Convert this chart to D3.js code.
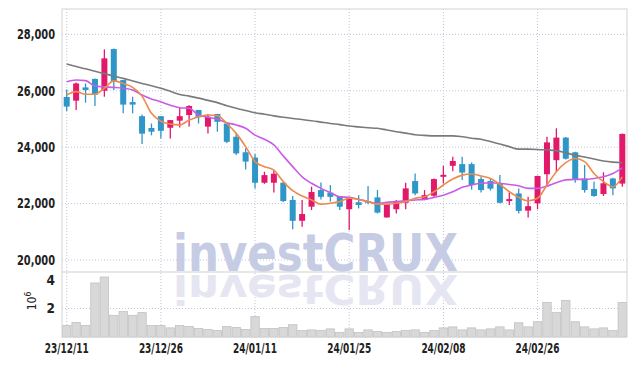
<!DOCTYPE html>
<html><head><meta charset="utf-8">
<script src="https://cdn.jsdelivr.net/npm/d3@7"></script>
<style>html,body{margin:0;padding:0;background:#fff;}svg{display:block;}</style>
</head><body>
<svg id="c" width="635" height="366"></svg>
<script>
const dates = ["23/12/11","23/12/12","23/12/13","23/12/14","23/12/15","23/12/18","23/12/19","23/12/20","23/12/21","23/12/22",
"23/12/26","23/12/27","23/12/28","24/01/02","24/01/03","24/01/04","24/01/05","24/01/08","24/01/09","24/01/10",
"24/01/11","24/01/12","24/01/15","24/01/16","24/01/17","24/01/18","24/01/19","24/01/22","24/01/23","24/01/24",
"24/01/25","24/01/26","24/01/29","24/01/30","24/01/31","24/02/01","24/02/02","24/02/05","24/02/06","24/02/07",
"24/02/08","24/02/13","24/02/14","24/02/15","24/02/16","24/02/19","24/02/20","24/02/21","24/02/22","24/02/23",
"24/02/26","24/02/27","24/02/28","24/02/29","24/03/04","24/03/05","24/03/06","24/03/07","24/03/08","24/03/11"];
const openP = [25780,25650,26120,26420,26000,27480,26380,25600,25100,24680,25100,24690,24940,25140,25320,24730,25180,24840,24370,23820,
23630,22740,22740,22740,22130,21390,21890,22480,22390,22270,21800,22050,22090,22220,21510,21800,22030,22800,22130,22280,
22950,23340,23400,23400,22870,22800,22720,22090,22360,21750,22010,23040,23540,24340,23820,22890,22520,22340,22890,22710];
const highP = [26050,26290,26260,26440,27470,27500,26380,25790,25160,24840,25100,24960,25410,25490,25320,25180,25180,24860,24490,23960,
23760,23130,23190,22760,22270,22130,22600,22750,22660,22270,22240,22300,22620,22480,22000,22130,22740,23070,22480,22890,
23340,23660,23660,23460,22950,22890,23010,22390,22540,22240,22990,24370,24670,24360,23840,23370,22780,23110,22920,24490];
const lowP = [25280,25320,25580,25460,25790,26030,25200,25200,24110,24420,24310,24310,24700,24730,24840,24490,24550,24150,23720,23210,
22540,22700,22390,22060,21090,21180,21770,22150,22070,21770,21060,21830,21980,21650,21500,21650,21800,22300,22120,22240,
22720,23150,22840,22500,22390,22460,22010,21950,21650,21510,21800,22600,23130,23560,22740,22390,22240,22270,22300,22600];
const closeP = [25440,26260,26030,25860,27150,26320,25510,25510,24480,24550,24580,24960,25100,25460,25060,25080,24900,24190,23780,23490,
22740,23010,23060,22090,21390,21630,22410,22240,22240,21890,22220,21950,22030,21680,21990,22090,22540,22360,22300,22870,
23020,23510,23100,22660,22480,22530,22030,22160,21740,21910,22980,24170,24340,23590,22870,22480,22270,22720,22540,24470];
const volumeM = [0.81,1.02,0.81,3.79,4.21,1.52,1.79,1.52,1.71,0.81,0.81,0.64,0.81,0.74,0.60,0.52,0.45,0.74,0.67,0.52,
1.43,0.60,0.60,0.67,0.86,0.45,0.50,0.45,0.57,0.31,0.57,0.31,0.50,0.38,0.31,0.38,0.45,0.50,0.31,0.45,
0.64,0.71,0.50,0.64,0.50,0.57,0.71,0.50,1.00,0.71,1.07,2.43,1.71,2.57,1.07,0.71,0.57,0.64,0.45,2.43];
const ma5 = [25850,25970,25880,25880,26090,26350,26260,26120,25810,25200,24920,24820,24790,24960,25080,25140,25120,24840,24490,24020,
23490,23310,23190,22780,22460,22270,22130,21980,22010,22070,22190,22150,22070,21980,21980,22010,22070,22190,22240,22420,
22660,22870,23010,23050,22980,22890,22680,22420,22220,22100,22190,22660,23130,23450,23600,23490,23070,22780,22600,22950];
const ma20 = [26320,26380,26360,26170,26140,26120,26090,26030,25850,25710,25610,25490,25400,25380,25140,25060,25000,24870,24790,24670,
24430,24280,24080,23690,23310,22950,22720,22540,22390,22240,22220,22150,22070,22010,22050,22070,22100,22130,22150,22220,
22300,22420,22580,22660,22720,22740,22720,22680,22630,22540,22540,22620,22740,22840,22860,22860,22890,22950,23070,23270];
const ma60 = [26950,26860,26780,26690,26610,26520,26440,26350,26260,26180,26090,25980,25870,25810,25740,25660,25580,25470,25380,25300,
25220,25170,25110,25060,25020,24980,24940,24890,24840,24800,24750,24720,24690,24670,24610,24550,24500,24440,24420,24400,
24400,24400,24370,24320,24280,24200,24110,24020,23930,23930,23920,23900,23880,23800,23720,23650,23580,23510,23470,23450];
const priceTicks = [20000,22000,24000,26000,28000];
const volTicks = [2,4];
const dateTickIdx = [0,10,20,30,40,50];

const svg = d3.select("#c");
const L=62, R=627, T=9, MID=272, B=337;
const idx = d3.range(dates.length);
const x = d3.scaleBand().domain(idx).range([L,R]).padding(0);
const cx = i => x(i) + x.bandwidth()/2;
const y = d3.scaleLinear().domain([19575,28900]).range([MID,T]);
const yv = d3.scaleLinear().domain([0,4.56]).range([B,MID]);
const gridC = "#bfc4dc";
const font = "'DejaVu Sans Condensed','DejaVu Sans',sans-serif";

// grid
const g = svg.append("g");
g.selectAll(".hg").data(priceTicks).join("line")
  .attr("x1",L).attr("x2",R).attr("y1",d=>y(d)).attr("y2",d=>y(d))
  .attr("stroke",gridC).attr("stroke-dasharray","1,2");
g.append("line").attr("x1",L).attr("x2",R).attr("y1",yv(2)).attr("y2",yv(2))
  .attr("stroke",gridC).attr("stroke-dasharray","1,2");
g.selectAll(".vg").data(dateTickIdx).join("line")
  .attr("x1",d=>cx(d)).attr("x2",d=>cx(d)).attr("y1",T).attr("y2",B)
  .attr("stroke",gridC).attr("stroke-dasharray","1,2");

// watermark
svg.append("defs").append("clipPath").attr("id","volclip")
  .append("rect").attr("x",L).attr("y",MID+2).attr("width",R-L).attr("height",B-MID-2);
const wm = svg.append("g");
wm.append("text").attr("x",173).attr("y",MID-1).text("investCRUX")
  .attr("font-family","'DejaVu Sans',sans-serif").attr("font-weight","bold")
  .attr("font-size",51).attr("textLength",285).attr("lengthAdjust","spacingAndGlyphs")
  .attr("fill","#c6cce4");
wm.append("g").attr("clip-path","url(#volclip)")
  .append("text").attr("x",173).attr("y",0).text("investCRUX")
  .attr("transform",`translate(0,${MID+3}) scale(1,-0.8)`)
  .attr("font-family","'DejaVu Sans',sans-serif").attr("font-weight","bold")
  .attr("font-size",51).attr("textLength",285).attr("lengthAdjust","spacingAndGlyphs")
  .attr("fill","#e5e6f1");

// volume bars
svg.append("g").selectAll("rect").data(idx).join("rect")
  .attr("x",i=>x(i)+0.5).attr("width",x.bandwidth()-1)
  .attr("y",i=>yv(volumeM[i])).attr("height",i=>B-yv(volumeM[i]))
  .attr("fill","#d8d8d8").attr("stroke","#c2c2c2").attr("stroke-width",0.8);

// frame
svg.append("rect").attr("x",L).attr("y",T).attr("width",R-L).attr("height",B-T)
  .attr("fill","none").attr("stroke","#d4d4d4");
svg.append("line").attr("x1",L).attr("x2",R).attr("y1",MID).attr("y2",MID).attr("stroke","#cfcfcf");

// candles
const up="#e2186b", dn="#2f96c8";
const cg = svg.append("g");
cg.selectAll(".w").data(idx).join("line")
  .attr("x1",cx).attr("x2",cx).attr("y1",i=>y(highP[i])).attr("y2",i=>y(lowP[i]))
  .attr("stroke",i=>closeP[i]>=openP[i]?up:dn).attr("stroke-width",1.3);
cg.selectAll(".b").data(idx).join("rect")
  .attr("x",i=>cx(i)-3).attr("width",6)
  .attr("y",i=>y(Math.max(openP[i],closeP[i])))
  .attr("height",i=>Math.max(1.5,Math.abs(y(openP[i])-y(closeP[i]))))
  .attr("fill",i=>closeP[i]>=openP[i]?up:dn);

// MA lines
const line = arr => d3.line().x(i=>cx(i)).y(i=>y(arr[i])).curve(d3.curveMonotoneX)(idx);
svg.append("path").attr("d",line(ma60)).attr("fill","none").attr("stroke","#7a7a7a").attr("stroke-width",1.6);
svg.append("path").attr("d",line(ma20)).attr("fill","none").attr("stroke","#c85ce6").attr("stroke-width",1.6);
svg.append("path").attr("d",line(ma5)).attr("fill","none").attr("stroke","#ee8a4c").attr("stroke-width",1.6);

// axes labels
const ax = svg.append("g").attr("font-family",font).attr("font-weight","bold").attr("fill","#222");
ax.selectAll(".yl").data(priceTicks).join("text")
  .attr("x",55).attr("y",d=>y(d)).attr("dy","0.36em").attr("text-anchor","end")
  .attr("font-size",13.5).attr("textLength",38).attr("lengthAdjust","spacingAndGlyphs")
  .text(d=>d3.format(",")(d));
ax.selectAll(".vl").data(volTicks).join("text")
  .attr("x",55).attr("y",d=>yv(d)).attr("dy","0.36em").attr("text-anchor","end")
  .attr("font-size",13.5).text(d=>d);
const pw = ax.append("text").attr("transform","translate(36,301) rotate(-90)")
  .attr("text-anchor","middle").attr("font-size",12).attr("font-weight","normal");
pw.append("tspan").text("10");
pw.append("tspan").attr("dy",-5).attr("font-size",8.5).text("6");
ax.selectAll(".xl").data(dateTickIdx).join("text")
  .attr("x",i=>cx(i)-22).attr("y",353)
  .attr("font-size",13.5).attr("textLength",44).attr("lengthAdjust","spacingAndGlyphs")
  .text(i=>dates[i]);
</script>
</body></html>
